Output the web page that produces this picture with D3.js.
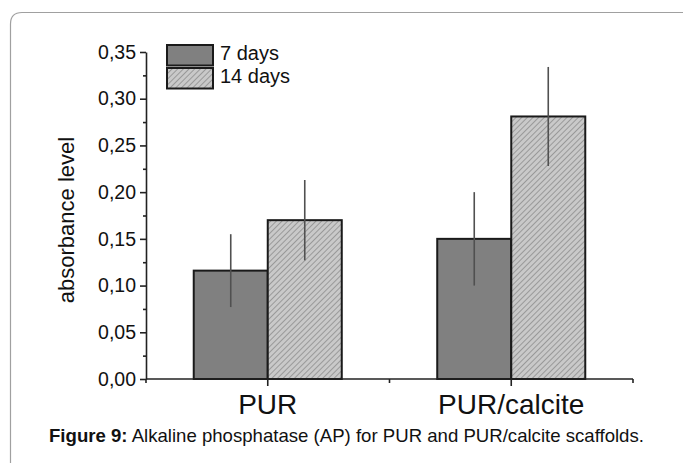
<!DOCTYPE html>
<html>
<head>
<meta charset="utf-8">
<script src="https://cdn.jsdelivr.net/npm/d3@7/dist/d3.min.js"></script>
<style>
  body { margin: 0; background: #fff; }
  svg { display: block; font-family: "Liberation Sans", Arial, sans-serif; }
</style>
</head>
<body>
<div id="chart"></div>
<script>
// chart values
var categories = ["PUR", "PUR/calcite"];
var seriesNames = ["7 days", "14 days"];
var days7 = [0.116, 0.150];
var days14 = [0.170, 0.281];
var err7 = [0.039, 0.050];
var err14 = [0.043, 0.053];
var yTicks = [0, 0.05, 0.10, 0.15, 0.20, 0.25, 0.30, 0.35];

var svgWidth = 683;
var svgHeight = 463;

var plot = { left: 146, right: 633, top: 52, bottom: 379 };

var svg = d3.select("#chart")
    .append("svg")
    .attr("width", svgWidth)
    .attr("height", svgHeight);

// frame around the figure
svg.append("path")
    .attr("d", "M10.5,463 L10.5,24 Q10.5,12.5 22,12.5 L690,12.5")
    .attr("fill", "none")
    .attr("stroke", "#a0a0a0")
    .attr("stroke-width", 1.2);

// hatch pattern for the 14 days bars
var defs = svg.append("defs");
var pattern = defs.append("pattern")
    .attr("id", "hatch")
    .attr("patternUnits", "userSpaceOnUse")
    .attr("width", 4)
    .attr("height", 4)
    .attr("patternTransform", "rotate(45)");
pattern.append("rect")
    .attr("width", 4)
    .attr("height", 4)
    .attr("fill", "#c9c9c9");
pattern.append("line")
    .attr("x1", 0).attr("y1", 0)
    .attr("x2", 0).attr("y2", 4)
    .attr("stroke", "#6a6a6a")
    .attr("stroke-width", 1);

var fills = ["#808080", "url(#hatch)"];

var rows = categories.map(function (c, i) {
    return {
        cat: c,
        values: [
            { series: seriesNames[0], value: days7[i], err: err7[i] },
            { series: seriesNames[1], value: days14[i], err: err14[i] }
        ]
    };
});

var x0 = d3.scaleBand()
    .domain(categories)
    .range([plot.left, plot.right])
    .padding(0);

var x1 = d3.scaleBand()
    .domain(seriesNames)
    .range([0, x0.bandwidth()])
    .paddingInner(0)
    .paddingOuter(0.645);

var y = d3.scaleLinear()
    .domain([0, 0.35])
    .range([plot.bottom, plot.top]);

var fmt = function (d) { return d3.format(".2f")(d).replace(".", ","); };

// bars
var groups = svg.selectAll(".group")
    .data(rows)
    .enter()
    .append("g")
    .attr("class", "group")
    .attr("transform", d => `translate(${x0(d.cat)},0)`);

groups.selectAll("rect")
    .data(d => d.values)
    .enter()
    .append("rect")
    .attr("x", d => x1(d.series))
    .attr("y", d => y(d.value))
    .attr("width", x1.bandwidth())
    .attr("height", d => y(0) - y(d.value))
    .attr("fill", (d, i) => fills[i])
    .attr("stroke", "#1a1a1a")
    .attr("stroke-width", 2);

// error bars (no caps)
groups.selectAll(".err")
    .data(d => d.values)
    .enter()
    .append("line")
    .attr("class", "err")
    .attr("x1", d => x1(d.series) + x1.bandwidth() / 2)
    .attr("x2", d => x1(d.series) + x1.bandwidth() / 2)
    .attr("y1", d => y(d.value + d.err))
    .attr("y2", d => y(d.value - d.err))
    .attr("stroke", "#505050")
    .attr("stroke-width", 1.6);

// y axis
var yAxis = svg.append("g")
    .attr("transform", `translate(${plot.left},0)`)
    .call(d3.axisLeft(y).tickValues(yTicks).tickFormat(fmt).tickSize(6).tickSizeOuter(0));
svg.append("g")
    .attr("transform", `translate(${plot.left},0)`)
    .call(d3.axisLeft(y).tickValues(d3.range(0.025, 0.35, 0.05)).tickFormat("").tickSize(3).tickSizeOuter(0))
    .select(".domain").remove();

yAxis.selectAll("text")
    .attr("font-size", 19.5)
    .attr("fill", "#111")
    .attr("x", -10);

svg.selectAll(".domain, .tick line")
    .attr("stroke", "#222")
    .attr("stroke-width", 1.6);

// x axis
var xAxis = svg.append("g")
    .attr("transform", `translate(0,${plot.bottom})`);
xAxis.append("line")
    .attr("x1", plot.left)
    .attr("x2", plot.right)
    .attr("stroke", "#222")
    .attr("stroke-width", 1.6);

var majorX = categories.map(c => x0(c) + x0.bandwidth() / 2);
var minorX = [plot.left, x0(categories[1]), plot.right];

xAxis.selectAll(".major")
    .data(majorX)
    .enter()
    .append("line")
    .attr("x1", d => d).attr("x2", d => d)
    .attr("y1", 0).attr("y2", 7)
    .attr("stroke", "#222")
    .attr("stroke-width", 1.6);

xAxis.selectAll(".minor")
    .data(minorX)
    .enter()
    .append("line")
    .attr("x1", d => d).attr("x2", d => d)
    .attr("y1", 0).attr("y2", 4)
    .attr("stroke", "#222")
    .attr("stroke-width", 1.6);

xAxis.selectAll(".catLabel")
    .data(categories)
    .enter()
    .append("text")
    .attr("x", (d, i) => majorX[i])
    .attr("y", 35)
    .attr("text-anchor", "middle")
    .attr("font-size", 28)
    .attr("fill", "#111")
    .text(d => d);

// y axis title
svg.append("text")
    .attr("transform", "rotate(-90)")
    .attr("x", -220)
    .attr("y", 74)
    .attr("text-anchor", "middle")
    .attr("font-size", 22)
    .attr("fill", "#111")
    .text("absorbance level");

// legend
var legend = svg.append("g")
    .attr("transform", "translate(167,45)");
legend.selectAll("rect")
    .data(seriesNames)
    .enter()
    .append("rect")
    .attr("x", 0)
    .attr("y", (d, i) => i * 23)
    .attr("width", 46)
    .attr("height", 20.5)
    .attr("fill", (d, i) => fills[i])
    .attr("stroke", "#1a1a1a")
    .attr("stroke-width", 2);
legend.selectAll("text")
    .data(seriesNames)
    .enter()
    .append("text")
    .attr("x", 53)
    .attr("y", (d, i) => 15 + i * 22.5)
    .attr("font-size", 20)
    .attr("fill", "#111")
    .text(d => d);

// caption
var caption = svg.append("text")
    .attr("x", 49)
    .attr("y", 442)
    .attr("font-size", 18.6)
    .attr("fill", "#111");
caption.append("tspan")
    .attr("font-weight", "bold")
    .text("Figure 9:");
caption.append("tspan")
    .text(" Alkaline phosphatase (AP) for PUR and PUR/calcite scaffolds.");
</script>
</body>
</html>
